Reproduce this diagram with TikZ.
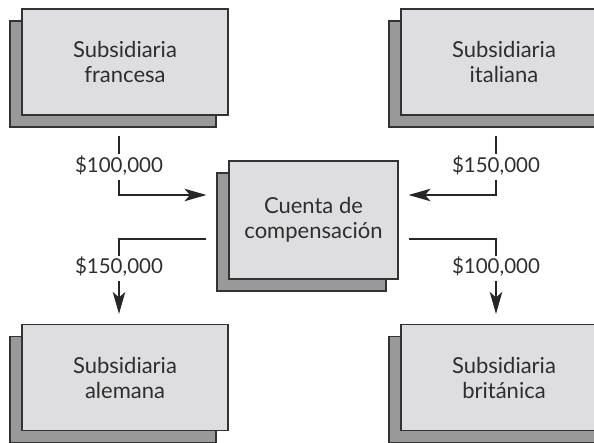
\documentclass[tikz,border=0pt]{standalone}
\usepackage{fontspec}
\setmainfont{Lato}
\usepackage{xcolor}
\usepackage{tikz}
\usetikzlibrary{arrows.meta,shadows,calc}
\definecolor{boxgray}{rgb}{0.87,0.87,0.88}
\definecolor{shadegray}{rgb}{0.60,0.60,0.60}
\definecolor{edgegray}{rgb}{0.20,0.20,0.20}
\definecolor{inkgray}{rgb}{0.18,0.18,0.18}
\tikzset{
  subbox/.style={draw=edgegray, fill=boxgray, line width=1.1pt,
                 minimum width=206pt, minimum height=106pt, align=center,
                 inner sep=0pt, text=inkgray, font=\fontsize{22}{25}\selectfont,
                 general shadow={shadow xshift=-12pt, shadow yshift=-12pt,
                                 fill=shadegray, draw=edgegray, line width=1.1pt}},
  clearbox/.style={subbox, minimum width=169pt, minimum height=118pt},
  amount/.style={font=\fontsize{20.5}{25}\selectfont, text=inkgray,
                 text height=14.5pt, text depth=3.5pt, inner xsep=0pt, inner ysep=3.5pt},
  flowline/.style={line width=1.5pt, black!85},
  flowarr/.style={flowline, -{Stealth[length=22pt, width=12.5pt, inset=5.5pt]}}
}
\begin{document}
\begin{tikzpicture}[x=1pt, y=1pt]
  \useasboundingbox (0,0) rectangle (594,442);

  % subsidiarias y cuenta central
  \node[subbox] (francesa) at (125,380) {Subsidiaria\\francesa};
  \node[subbox] (italiana) at (504,380) {Subsidiaria\\italiana};
  \node[subbox] (alemana) at (125,64.5) {Subsidiaria\\alemana};
  \node[subbox] (britanica) at (504,64.5) {Subsidiaria\\británica};
  \node[clearbox] (cuenta) at (313.5,222) {Cuenta de\\compensación};

  % montos
  \node[amount] (amtfr) at (119,275) {\$100,000};
  \node[amount] (amtit) at (496,275) {\$150,000};
  \node[amount] (amtal) at (119,173.5) {\$150,000};
  \node[amount] (amtbr) at (496,173.5) {\$100,000};

  % pagos hacia la cuenta
  \draw[flowline] ($(francesa.south)+(-6,-20)$) -- (amtfr);
  \draw[flowarr] (amtfr) |- ($(cuenta.west)+(-22,25)$);
  \draw[flowline] ($(italiana.south)+(-8,-20)$) -- (amtit);
  \draw[flowarr] (amtit) |- ($(cuenta.east)+(10,25)$);

  % pagos desde la cuenta
  \draw[flowline] ($(cuenta.west)+(-22,-19)$) -| (amtal);
  \draw[flowarr] (amtal) -- ($(alemana.north)+(-6,10)$);
  \draw[flowline] ($(cuenta.east)+(10,-19)$) -| (amtbr);
  \draw[flowarr] (amtbr) -- ($(britanica.north)+(-8,10)$);
\end{tikzpicture}
\end{document}
